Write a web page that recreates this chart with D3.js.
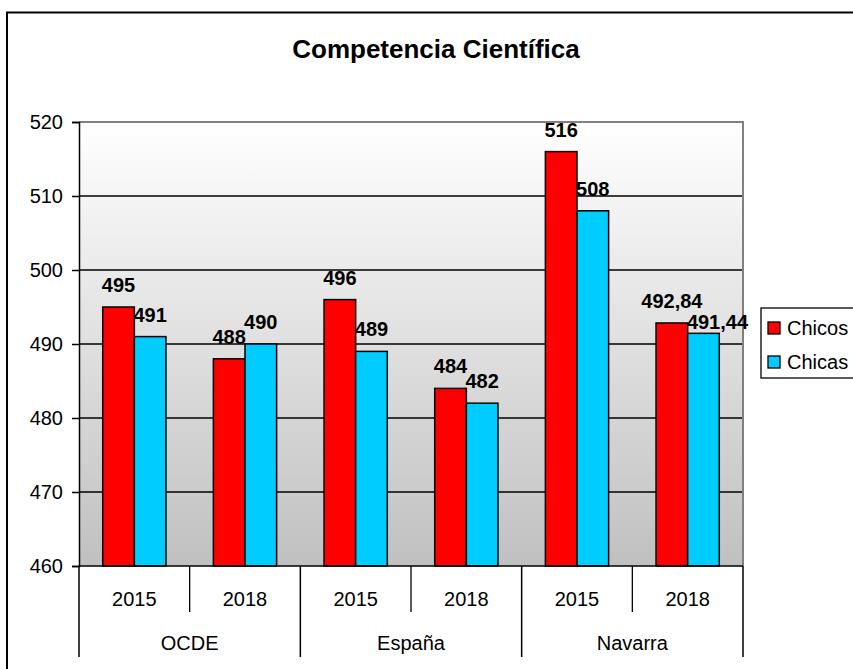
<!DOCTYPE html>
<html>
<head>
<meta charset="utf-8">
<script src="https://cdn.jsdelivr.net/npm/d3@7"></script>
<style>
  body { margin: 0; background: #fff; }
  svg { display: block; font-family: Arial, "Liberation Sans", sans-serif; }
</style>
</head>
<body>
<div id="chart"></div>
<script>
// chart data
const groups = ["OCDE", "España", "Navarra"];
const years = ["2015", "2018"];
const series = ["Chicos", "Chicas"];
const chicos = [495, 488, 496, 484, 516, 492.84];
const chicas = [491, 490, 489, 482, 508, 491.44];
const yTicks = [460, 470, 480, 490, 500, 510, 520];
const colors = ["#ff0000", "#00ccff"];

const width = 853, height = 669;
const plot = {left: 79, right: 743, top: 122, bottom: 566};

const svg = d3.select("#chart").append("svg")
  .attr("width", width)
  .attr("height", height);

// outer frame
svg.append("rect")
  .attr("x", 7).attr("y", 12.5)
  .attr("width", 900).attr("height", 700)
  .attr("fill", "#fff")
  .attr("stroke", "#000")
  .attr("stroke-width", 2);

svg.append("text")
  .attr("x", 436).attr("y", 58)
  .attr("text-anchor", "middle")
  .attr("font-size", "26px")
  .attr("font-weight", "bold")
  .text("Competencia Científica");

// categories (group x year)
let cats = [];
groups.forEach((g, gi) => {
  years.forEach((yr, yi) => {
    cats.push({group: g, year: yr, key: g + "|" + yr, i: gi * years.length + yi});
  });
});

const x = d3.scaleBand()
  .domain(cats.map(d => d.key))
  .range([plot.left, plot.right]);
const bw = x.bandwidth();
const xInner = d3.scaleBand()
  .domain(series)
  .range([bw * 0.75 / 3.5, bw * 2.75 / 3.5]);
const y = d3.scaleLinear()
  .domain([460, 520])
  .range([plot.bottom, plot.top]);

// background gradient
const grad = svg.append("defs").append("linearGradient")
  .attr("id", "bg").attr("x1", 0).attr("y1", 0).attr("x2", 0).attr("y2", 1);
grad.append("stop").attr("offset", "0%").attr("stop-color", "#ffffff");
grad.append("stop").attr("offset", "100%").attr("stop-color", "#c0c0c0");

svg.append("rect")
  .attr("x", plot.left).attr("y", plot.top)
  .attr("width", plot.right - plot.left)
  .attr("height", plot.bottom - plot.top)
  .attr("fill", "url(#bg)");

// gridlines
svg.append("g").selectAll("line")
  .data(yTicks.filter(t => t > 460 && t < 520))
  .join("line")
  .attr("x1", plot.left).attr("x2", plot.right)
  .attr("y1", d => y(d)).attr("y2", d => y(d))
  .attr("stroke", "#000").attr("stroke-width", 1.3);

// plot border top/right
svg.append("path")
  .attr("d", `M${plot.left},${y(520)}H${plot.right}V${plot.bottom}`)
  .attr("fill", "none")
  .attr("stroke", "#808080")
  .attr("stroke-width", 2);

// bars
const rows = cats.map(c => ({cat: c, vals: [chicos[c.i], chicas[c.i]]}));
const fmt = v => Number.isInteger(v) ? String(v) : v.toFixed(2).replace(".", ",");

const barG = svg.append("g");
rows.forEach(r => {
  series.forEach((s, si) => {
    const v = r.vals[si];
    const bx = x(r.cat.key) + xInner(s);
    barG.append("rect")
      .attr("x", bx).attr("y", y(v))
      .attr("width", xInner.bandwidth())
      .attr("height", y(460) - y(v))
      .attr("fill", colors[si])
      .attr("stroke", "#000")
      .attr("stroke-width", 1.5);
  });
});
rows.forEach(r => {
  series.forEach((s, si) => {
    const v = r.vals[si];
    // last Chicas label is pushed aside so it doesn't sit on top of its neighbour
    const nudge = (r.cat.i === cats.length - 1 && si === 1) ? [14, 11] : [0, 0];
    barG.append("text")
      .attr("x", x(r.cat.key) + xInner(s) + xInner.bandwidth() / 2 + nudge[0])
      .attr("y", y(v) - 15 + nudge[1])
      .attr("text-anchor", "middle")
      .attr("font-size", "20px")
      .attr("font-weight", "bold")
      .text(fmt(v));
  });
});

// y axis
const yAxis = d3.axisLeft(y).tickValues(yTicks).tickSize(7).tickPadding(9);
svg.append("g")
  .attr("transform", `translate(${plot.left},0)`)
  .call(yAxis)
  .call(g => g.select(".domain").attr("stroke", "#000").attr("stroke-width", 1.5))
  .call(g => g.selectAll(".tick line").attr("stroke", "#000").attr("stroke-width", 1.5))
  .call(g => g.selectAll(".tick text")
    .attr("font-size", "20px").attr("font-family", "Arial, 'Liberation Sans', sans-serif")
    .attr("fill", "#000"));

// x axis (two levels)
const xg = svg.append("g");
xg.append("line")
  .attr("x1", plot.left).attr("x2", plot.right)
  .attr("y1", plot.bottom).attr("y2", plot.bottom)
  .attr("stroke", "#000").attr("stroke-width", 1.5);

xg.selectAll(".yr")
  .data(cats)
  .join("text")
  .attr("x", d => x(d.key) + bw / 2)
  .attr("y", 606)
  .attr("text-anchor", "middle")
  .attr("font-size", "20px")
  .text(d => d.year);

// dividers between years inside a group
xg.selectAll(".yd")
  .data(cats.filter(d => d.year !== years[0]))
  .join("line")
  .attr("x1", d => x(d.key)).attr("x2", d => x(d.key))
  .attr("y1", plot.bottom).attr("y2", 612)
  .attr("stroke", "#000").attr("stroke-width", 1.3);

// group dividers
const groupEdges = groups.map((g, gi) => x(cats[gi * years.length].key)).concat([plot.right]);
xg.selectAll(".gd")
  .data(groupEdges)
  .join("line")
  .attr("x1", d => d).attr("x2", d => d)
  .attr("y1", plot.bottom).attr("y2", 657)
  .attr("stroke", "#000").attr("stroke-width", 1.5);

xg.selectAll(".gl")
  .data(groups)
  .join("text")
  .attr("x", (d, i) => (groupEdges[i] + groupEdges[i + 1]) / 2)
  .attr("y", 650)
  .attr("text-anchor", "middle")
  .attr("font-size", "20px")
  .text(d => d);

// legend
const leg = svg.append("g");
leg.append("rect")
  .attr("x", 761).attr("y", 308)
  .attr("width", 120).attr("height", 70)
  .attr("fill", "#fff").attr("stroke", "#000").attr("stroke-width", 1.3);
series.forEach((s, si) => {
  leg.append("rect")
    .attr("x", 768).attr("y", 322 + si * 34)
    .attr("width", 12).attr("height", 12)
    .attr("fill", colors[si]).attr("stroke", "#000").attr("stroke-width", 1.3);
  leg.append("text")
    .attr("x", 787).attr("y", 335 + si * 34)
    .attr("font-size", "20px")
    .text(s);
});
</script>
</body>
</html>
